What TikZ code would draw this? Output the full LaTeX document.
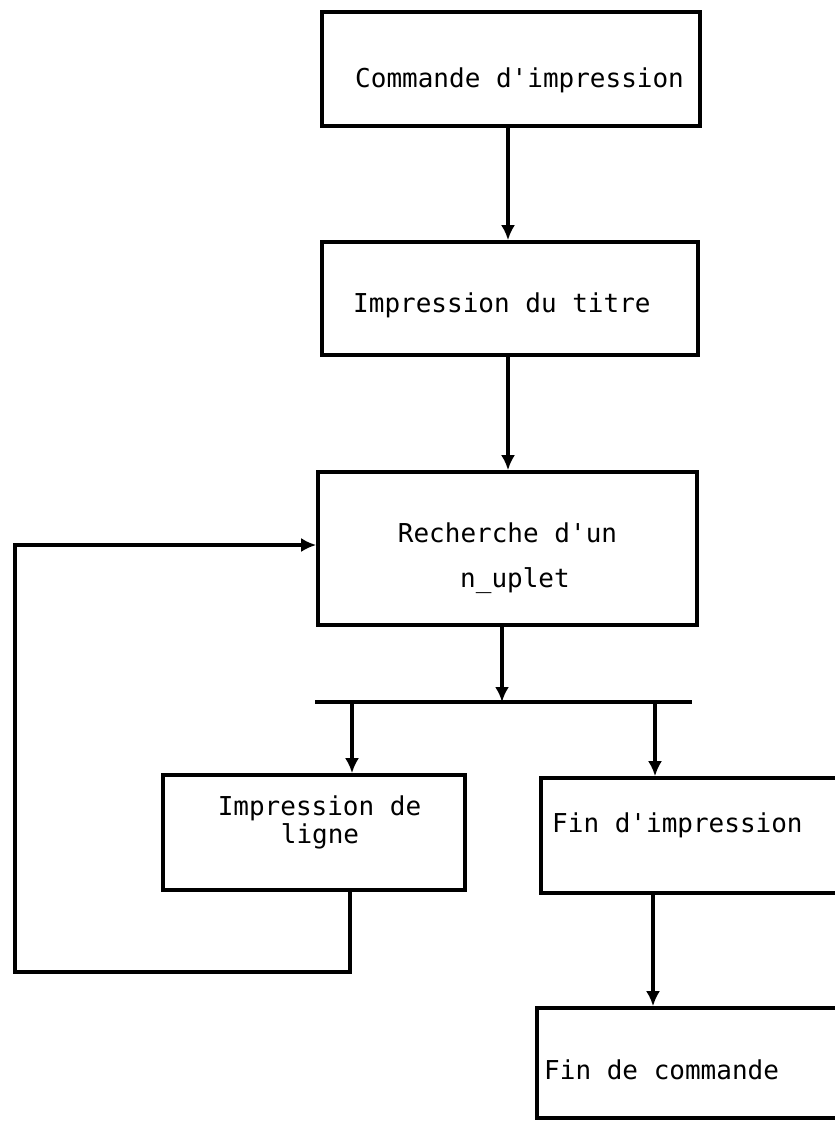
\documentclass[tikz,border=0pt]{standalone}
\usepackage{fontspec}
\setmonofont{DejaVu Sans Mono}
\usetikzlibrary{arrows.meta}
\begin{document}
\begin{tikzpicture}[x=1pt,y=-1pt,
  box/.style={draw=black, line width=3.6pt, inner sep=0pt, rectangle},
  lbl/.style={font=\fontsize{26}{30}\selectfont\ttfamily, inner sep=0pt},
  conn/.style={line width=3.6pt, draw=black},
  arr/.style={conn, -{Latex[length=15pt,width=14pt]}}]
\useasboundingbox (0,0) rectangle (835,1125);
% boxes
\node[box, minimum width=378pt, minimum height=114pt] (b1) at (511,69) {};
\node[box, minimum width=376pt, minimum height=113pt] (b2) at (510,298.5) {};
\node[box, minimum width=379pt, minimum height=153pt] (b3) at (507.5,548.5) {};
\node[box, minimum width=302pt, minimum height=115pt] (b4) at (314,832.5) {};
\node[box, minimum width=309pt, minimum height=115pt] (b5) at (695.5,835.5) {};
\node[box, minimum width=313pt, minimum height=110pt] (b6) at (693.5,1063) {};
% texts
\node[lbl, anchor=base west] (t1) at (355,87) {Commande d'impression};
\node[lbl, anchor=base west] (t2) at (353,312) {Impression du titre};
\node[lbl, anchor=base] (t3a) at (507.5,542) {Recherche d'un};
\node[lbl, anchor=base] (t3b) at (515,587) {n\_uplet};
\node[lbl, anchor=base] (t4a) at (319.5,815) {Impression de};
\node[lbl, anchor=base] (t4b) at (320,843) {ligne};
\node[lbl, anchor=base west] (t5) at (552,832) {Fin d'impression};
\node[lbl, anchor=base west] (t6) at (544,1079) {Fin de commande};
% bar
\coordinate (barL) at (315,702);
\coordinate (barR) at (692,702);
\coordinate (d0) at (502,702);
\coordinate (d1) at (352,702);
\coordinate (d2) at (655,702);
\draw[conn] (barL) -- (barR);
% arrows
\draw[arr] (b1.south -| 508,0) -- (b2.north -| 508,0);
\draw[arr] (b2.south -| 508,0) -- (b3.north -| 508,0);
\draw[arr] (b3.south -| d0) -- (d0);
\draw[arr] (d1) -- (d1 |- b4.north);
\draw[arr] (d2) -- (d2 |- b5.north);
\draw[arr] (b5.south -| 653,0) -- (b6.north -| 653,0);
% loop
\coordinate (l1) at (350,972);
\coordinate (l2) at (15,972);
\coordinate (l3) at (15,545);
\draw[arr, line join=miter] (b4.south -| l1) -- (l1) -- (l2) -- (l3) -- (b3.west |- l3);
\end{tikzpicture}
\end{document}
